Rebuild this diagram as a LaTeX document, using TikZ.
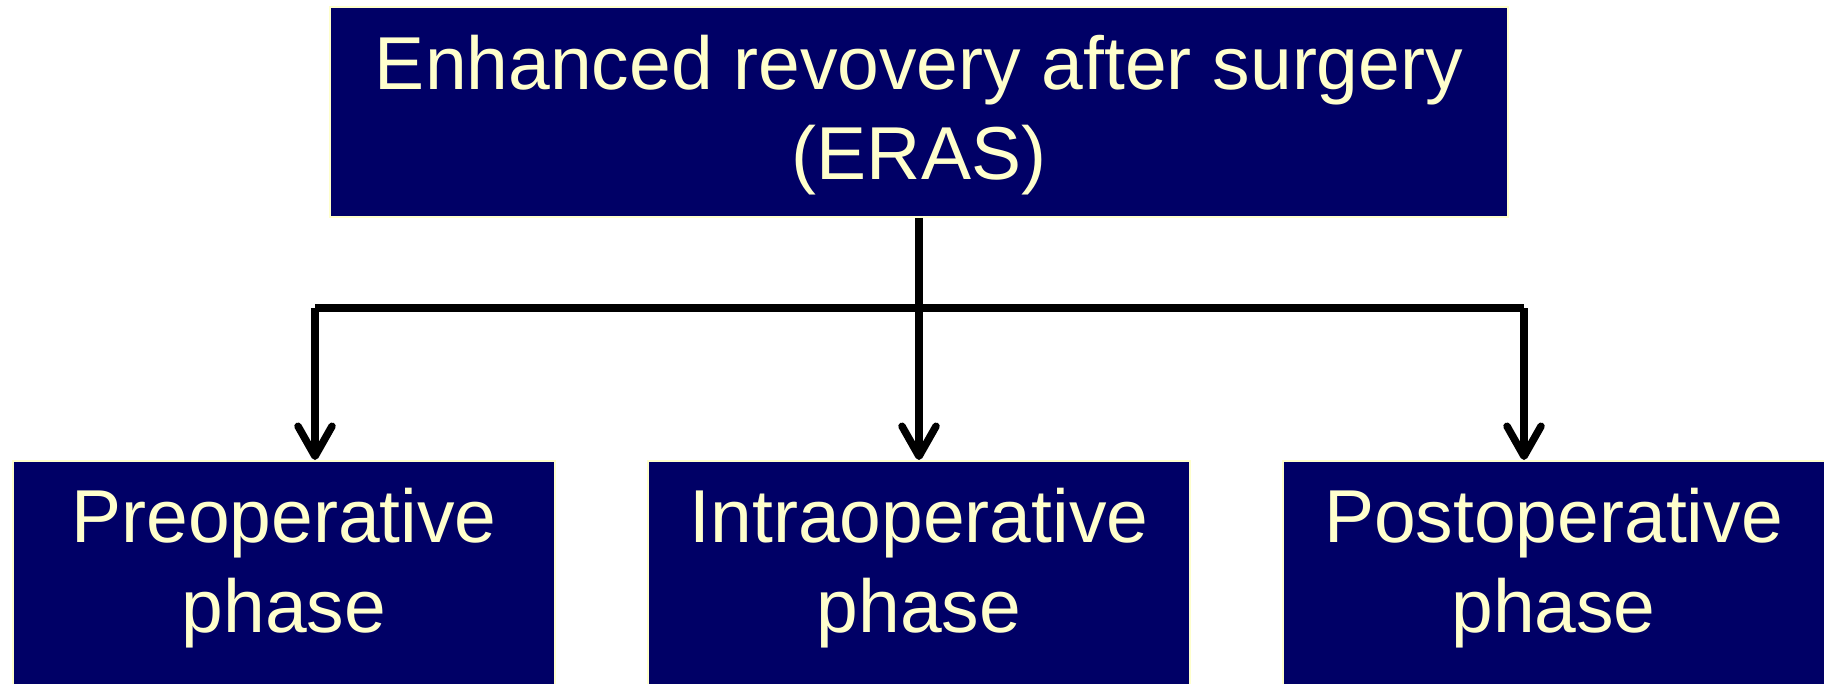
\documentclass[tikz,border=0pt]{standalone}
\usepackage{fontspec}
\setmainfont{Liberation Sans}
\usetikzlibrary{arrows.meta}
\definecolor{navy}{RGB}{0,0,102}
\definecolor{cream}{RGB}{255,255,204}
\begin{document}
\begin{tikzpicture}[x=0.5pt,y=-0.5pt,
  box/.style={draw=cream, line width=1pt, fill=navy, text=cream,
    font=\fontsize{37.5}{45}\selectfont, align=center, inner sep=0pt},
  conn/.style={line width=3.75pt, draw=black},
  arr/.style={conn, -{Straight Barb[length=15pt,width=17pt,round]}}]
\useasboundingbox (0,0) rectangle (1824,684);
\clip (0,0) rectangle (1824,684);
\node[box, minimum width=589pt, minimum height=105pt, text height=85pt, text depth=17pt] (eras) at (919,112) {Enhanced revovery after surgery\\(ERAS)};
\node[box, minimum width=271pt, minimum height=119.5pt, text height=75pt, text depth=23.5pt] (pre) at (284,580.5) {Preoperative\\phase};
\node[box, minimum width=271pt, minimum height=119.5pt, text height=75pt, text depth=23.5pt] (intra) at (919,580.5) {Intraoperative\\phase};
\node[box, minimum width=271pt, minimum height=119.5pt, text height=75pt, text depth=23.5pt] (post) at (1553.5,580.5) {Postoperative\\phase};
\coordinate (jl) at (315,308);
\coordinate (jr) at (1524,308);
\draw[arr] (eras.south) -- (intra.north);
\draw[conn] (jl) -- (jr);
\draw[arr] (jl) -- (jl |- pre.north);
\draw[arr] (jr) -- (jr |- post.north);
\end{tikzpicture}
\end{document}
